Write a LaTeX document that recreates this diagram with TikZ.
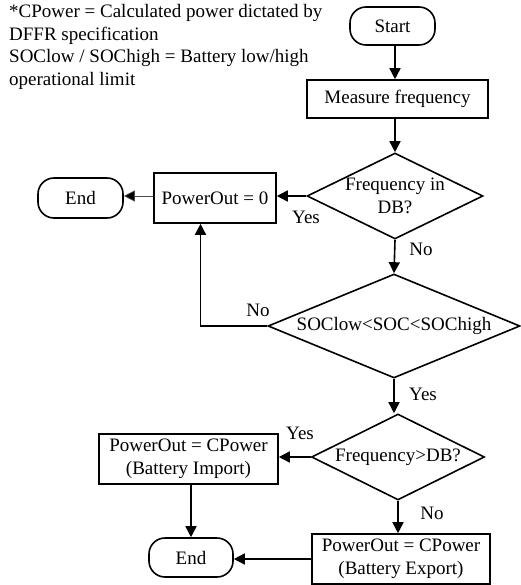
\documentclass[tikz,border=0pt]{standalone}
\usepackage{fontspec}
\setmainfont{Liberation Serif}
\usetikzlibrary{arrows.meta,shapes.geometric}
\begin{document}
\begin{tikzpicture}[x=1pt,y=-1pt,
  every node/.style={font=\fontsize{19}{23}\selectfont},
  box/.style={draw,line width=1.6pt,rectangle,inner sep=2pt,align=center},
  term/.style={draw,line width=1.6pt,rectangle,rounded corners=16pt,inner sep=2pt},
  dia/.style={draw,line width=1.6pt,diamond,inner sep=0pt},
  lbl/.style={inner sep=0pt},
  conn/.style={line width=1.6pt,-{Triangle[length=11pt,width=11pt]}},
  thin conn/.style={line width=0.8pt,draw=black!70,-{Triangle[length=11pt,width=11pt,fill=black]}}
]
\useasboundingbox (0,0) rectangle (520,585);
\node[lbl,anchor=north west,align=left,font=\fontsize{19}{22.7}\selectfont] (note) at (9,4)
  {*CPower = Calculated power dictated by\\DFFR specification\\SOClow / SOChigh = Battery low/high\\operational limit};
\node[term,minimum width=85pt,minimum height=38pt] (start) at (392.5,26) {Start};
\node[box,minimum width=181pt,minimum height=38pt] (meas) at (397.5,99) {Measure frequency};
\node[dia,minimum width=176pt,minimum height=86pt] (d1) at (395,196) {};
\node[lbl,align=center] (t1) at (d1) {Frequency in\\DB?};
\node[box,minimum width=122pt,minimum height=50pt] (p0) at (215,198) {PowerOut = 0};
\node[term,minimum width=85pt,minimum height=40pt] (end1) at (80.5,198) {End};
\node[dia,minimum width=252pt,minimum height=104pt] (d2) at (394,326) {};
\node[lbl] (t2) at (d2) {SOClow<SOC<SOChigh};
\node[dia,minimum width=173pt,minimum height=86pt] (d3) at (398,457) {};
\node[lbl] (t3) at (d3) {Frequency>DB?};
\node[box,minimum width=179pt,minimum height=50pt] (imp) at (188.5,459) {PowerOut = CPower\\(Battery Import)};
\node[box,minimum width=178pt,minimum height=50pt] (exp) at (401,559) {PowerOut = CPower\\(Battery Export)};
\node[term,minimum width=84pt,minimum height=39pt] (end2) at (191,557.5) {End};

\draw[conn] (start.south -| d1.north) -- (d1.north |- meas.north);
\draw[conn] (meas.south -| d1.north) -- (d1.north);
\draw[conn] (d1.west) -- (d1.west -| p0.east);
\draw[thin conn] (p0.west |- d1.west) -- (d1.west -| end1.east);
\draw[conn] (d1.south) -- (d2.north);
\draw[conn] (d2.west) -| ([xshift=-14.5pt]p0.south);
\draw[conn] (d2.south) -- (d2.south |- d3.north);
\draw[conn] (d3.west) -- (d3.west -| imp.east);
\draw[conn] (d3.south) -- (d3.south |- exp.north);
\draw[conn] (imp.south -| end2.north) -- (end2.north);
\draw[conn] (exp.west) -- (exp.west -| end2.east);

\node[lbl] (l1) at (306,217) {Yes};
\node[lbl] (l2) at (421,249) {No};
\node[lbl] (l3) at (258,310) {No};
\node[lbl] (l4) at (423,394) {Yes};
\node[lbl] (l5) at (300,433) {Yes};
\node[lbl] (l6) at (432,513) {No};
\end{tikzpicture}
\end{document}
